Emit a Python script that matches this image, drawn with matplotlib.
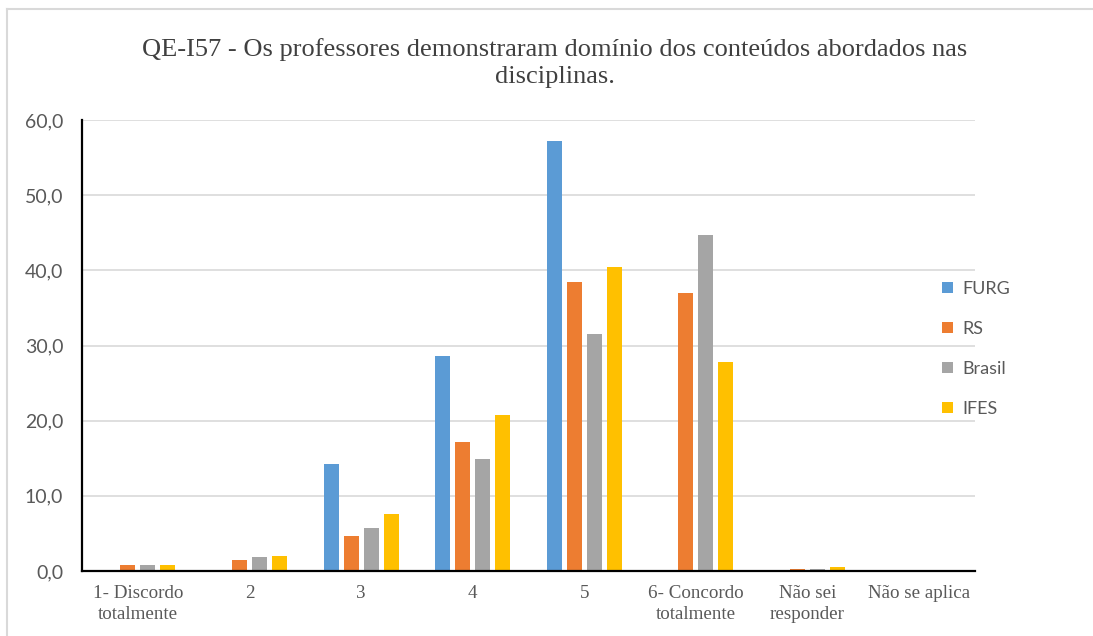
import matplotlib
matplotlib.use("Agg")
import matplotlib.pyplot as plt
from matplotlib.lines import Line2D
import numpy as np

categories = ["1- Discordo\ntotalmente", "2", "3", "4", "5",
              "6- Concordo\ntotalmente", "Não sei\nresponder", "Não se aplica"]
series_names = ["FURG", "RS", "Brasil", "IFES"]
furg = [0.0, 0.0, 14.3, 28.6, 57.2, 0.0, 0.0, 0.0]
rs = [0.8, 1.4, 4.6, 17.2, 38.5, 37.0, 0.3, 0.0]
brasil = [0.8, 1.9, 5.7, 14.9, 31.5, 44.7, 0.3, 0.05]
ifes = [0.8, 2.0, 7.6, 20.8, 40.4, 27.8, 0.5, 0.0]
colors = ["#5B9BD5", "#ED7D31", "#A5A5A5", "#FFC000"]
yticks = [0, 10, 20, 30, 40, 50, 60]
title = "QE-I57 - Os professores demonstraram domínio dos conteúdos abordados nas\ndisciplinas."

W, H = 1093, 636
fig = plt.figure(figsize=(W / 100, H / 100), dpi=100)
ax = fig.add_axes([82 / W, 1 - 571 / H, (975 - 82) / W, (571 - 120) / H])

x = np.arange(len(categories))
slot = 0.179
bw = 0.134
all_series = [furg, rs, brasil, ifes]
for i, (vals, name, c) in enumerate(zip(all_series, series_names, colors)):
    ax.bar(x + (i - 1.5) * slot, vals, width=bw, color=c, label=name, zorder=3)

ax.set_xlim(-0.5, len(categories) - 0.5)
ax.set_ylim(0, 60)
ax.set_yticks(yticks)
ax.set_yticklabels([f"{v:.1f}".replace(".", ",") for v in yticks],
                   fontfamily="Lato", fontsize=14, color="#595959")
ax.set_xticks(x)
ax.set_xticklabels(categories, fontfamily="Liberation Serif", fontsize=13.7,
                   color="#595959", linespacing=1.35)
ax.tick_params(axis="both", length=0)
ax.tick_params(axis="y", pad=13.5)
ax.tick_params(axis="x", pad=10)
ax.grid(axis="y", color="#D9D9D9", linewidth=1.2, zorder=0)
for s in ["top", "right"]:
    ax.spines[s].set_visible(False)
for s in ["left", "bottom"]:
    ax.spines[s].set_color("black")
    ax.spines[s].set_linewidth(1.6)
    ax.spines[s].set_zorder(4)

leg = fig.legend(loc="center left", bbox_to_anchor=(933 / W, 1 - 349 / H),
                 frameon=False, prop={"family": "Lato", "size": 13},
                 handlelength=0.6, handleheight=0.6, handletextpad=0.5,
                 labelspacing=1.33, borderpad=0)
for t in leg.get_texts():
    t.set_color("#595959")

fig.text(555 / W, 1 - 63 / H, title, ha="center", va="center",
         fontfamily="Liberation Serif", fontsize=19, color="#404040",
         linespacing=1.35)

fig.add_artist(Line2D([7 / W, 1], [1 - 8.5 / H, 1 - 8.5 / H], color="#D9D9D9",
                      linewidth=1.5, transform=fig.transFigure))
fig.add_artist(Line2D([7 / W, 7 / W], [0, 1 - 8.5 / H], color="#D9D9D9",
                      linewidth=1.5, transform=fig.transFigure))

fig.savefig("out.png", dpi=100)
